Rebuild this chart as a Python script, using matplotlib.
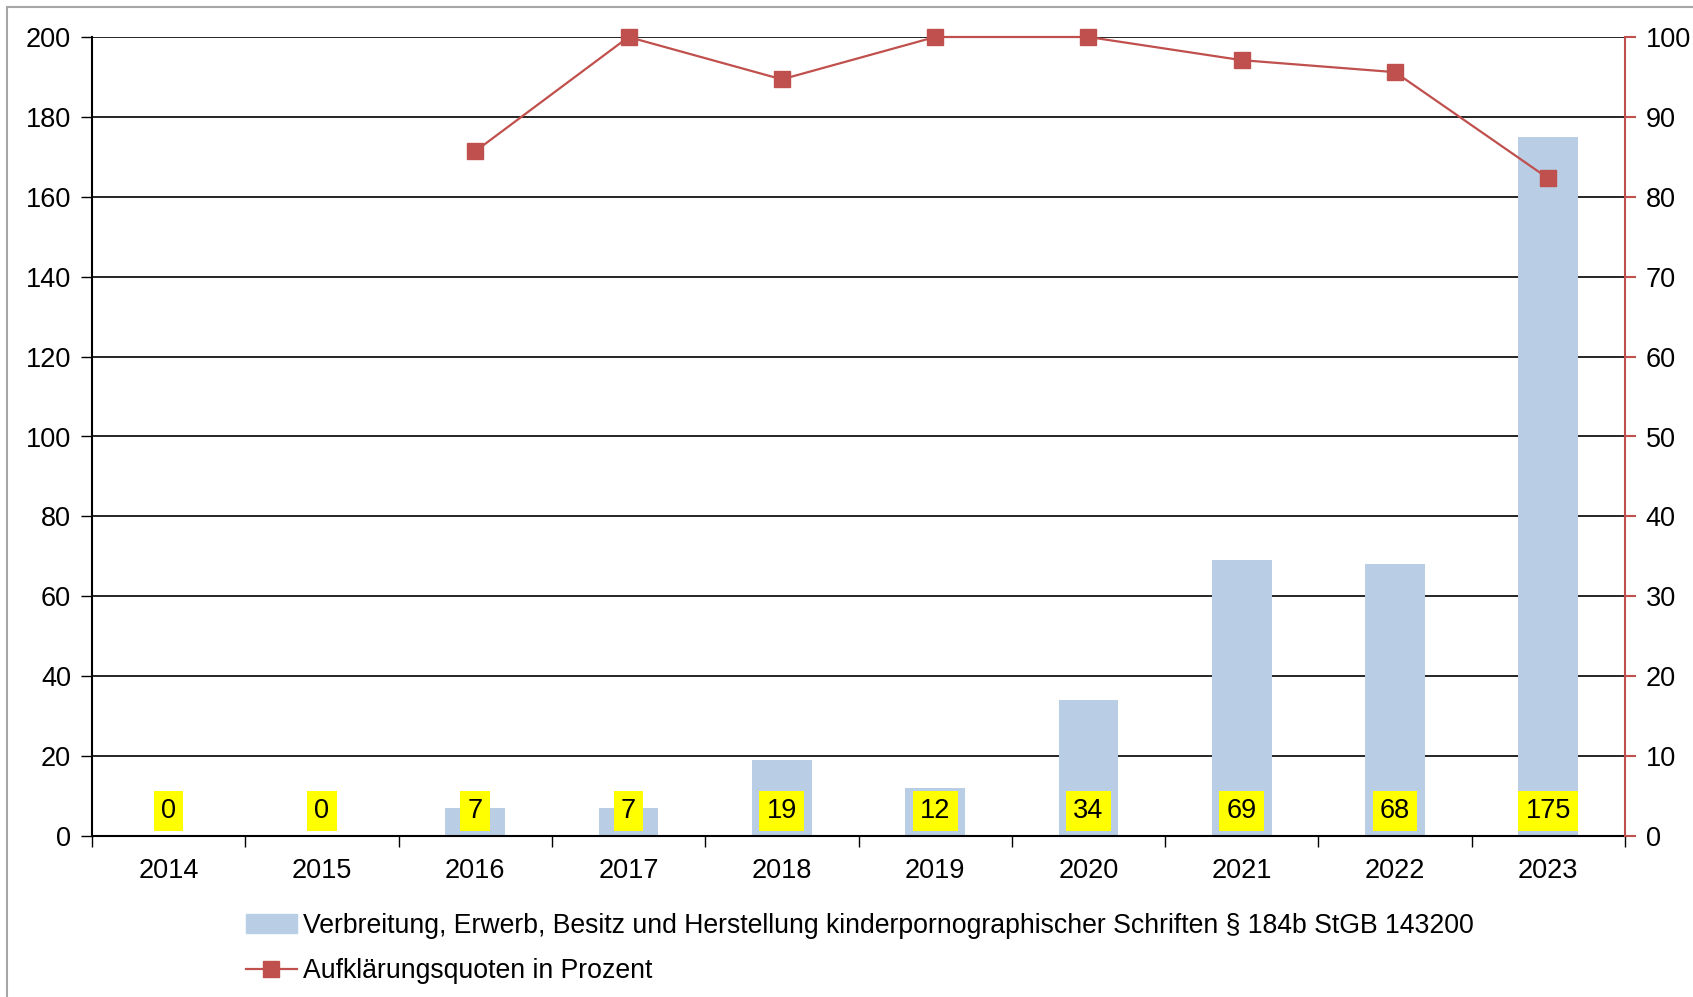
import matplotlib.pyplot as plt
from matplotlib.patches import Rectangle, Patch
from matplotlib.lines import Line2D
import numpy as np

plt.rcParams['font.family'] = ['Liberation Sans', 'DejaVu Sans']

# Daten
jahre = ['2014', '2015', '2016', '2017', '2018', '2019', '2020', '2021', '2022', '2023']
faelle = [0, 0, 7, 7, 19, 12, 34, 69, 68, 175]
quote = [None, None, 85.7, 100, 94.7, 100, 100, 97.1, 95.6, 82.3]

label_balken = 'Verbreitung, Erwerb, Besitz und Herstellung kinderpornographischer Schriften § 184b StGB 143200'
label_linie = 'Aufklärungsquoten in Prozent'

blau = '#B9CDE5'
rot = '#C0504D'
fs = 19.5

fig = plt.figure(figsize=(16.93, 9.97), dpi=100)
W, H = 1693, 997
ax = fig.add_axes([92 / W, 1 - 836 / H, (1625 - 92) / W, (836 - 37) / H])

x = np.arange(len(jahre))
ax.bar(x, faelle, width=0.39, color=blau, zorder=2)

# Gitterlinien
ax.set_ylim(0, 200)
ax.set_yticks(range(0, 201, 20))
ax.yaxis.grid(True, color='black', lw=1.2, zorder=1)
ax.set_axisbelow(True)
ax.set_xlim(-0.5, len(jahre) - 0.5)
ax.set_xticks(x)
ax.set_xticklabels(jahre)
ax.set_xticks(np.arange(-0.5, len(jahre), 1), minor=True)
ax.tick_params(axis='x', which='major', length=0, pad=16, labelsize=fs)
ax.tick_params(axis='x', which='minor', length=8, width=1.0, color='black')
ax.tick_params(axis='y', length=8, width=1.0, pad=7, labelsize=fs)
for s in ['left', 'bottom']:
    ax.spines[s].set_linewidth(1.5)
ax.spines['top'].set_visible(False)
ax.spines['right'].set_visible(False)

# Werte-Beschriftung in gelben Kästchen
for i, v in enumerate(faelle):
    ax.text(i, 6.3, str(v), ha='center', va='center', fontsize=fs, zorder=5,
            bbox=dict(boxstyle='square,pad=0.27', fc='yellow', ec='none'))

# zweite Achse
ax2 = ax.twinx()
xs = [i for i, q in enumerate(quote) if q is not None]
ys = [q for q in quote if q is not None]
ax2.plot(xs, ys, color=rot, lw=1.6, marker='s', markersize=11, clip_on=False, zorder=4)
ax2.set_ylim(0, 100)
ax2.set_yticks(range(0, 101, 10))
ax2.tick_params(axis='y', length=8, width=1.5, color=rot, pad=7, labelsize=fs)
ax2.spines['right'].set_color(rot)
ax2.spines['right'].set_linewidth(1.5)
for s in ['left', 'top', 'bottom']:
    ax2.spines[s].set_visible(False)

# Legende
handles = [Patch(color=blau), Line2D([], [], color=rot, lw=1.6, marker='s', markersize=11)]
fig.legend(handles, [label_balken, label_linie], loc='upper left',
           bbox_to_anchor=(222 / W, 1 - 889 / H), frameon=False, fontsize=19.2,
           handlelength=1.9, handletextpad=0.24, labelspacing=0.72)

# grauer Rahmen
fig.patches.append(Rectangle((7 / W, -0.1), 1.2, 1 - 7 / H + 0.1, transform=fig.transFigure,
                             fill=False, ec='#A6A6A6', lw=1.5))

plt.savefig('out.png', dpi=100)
